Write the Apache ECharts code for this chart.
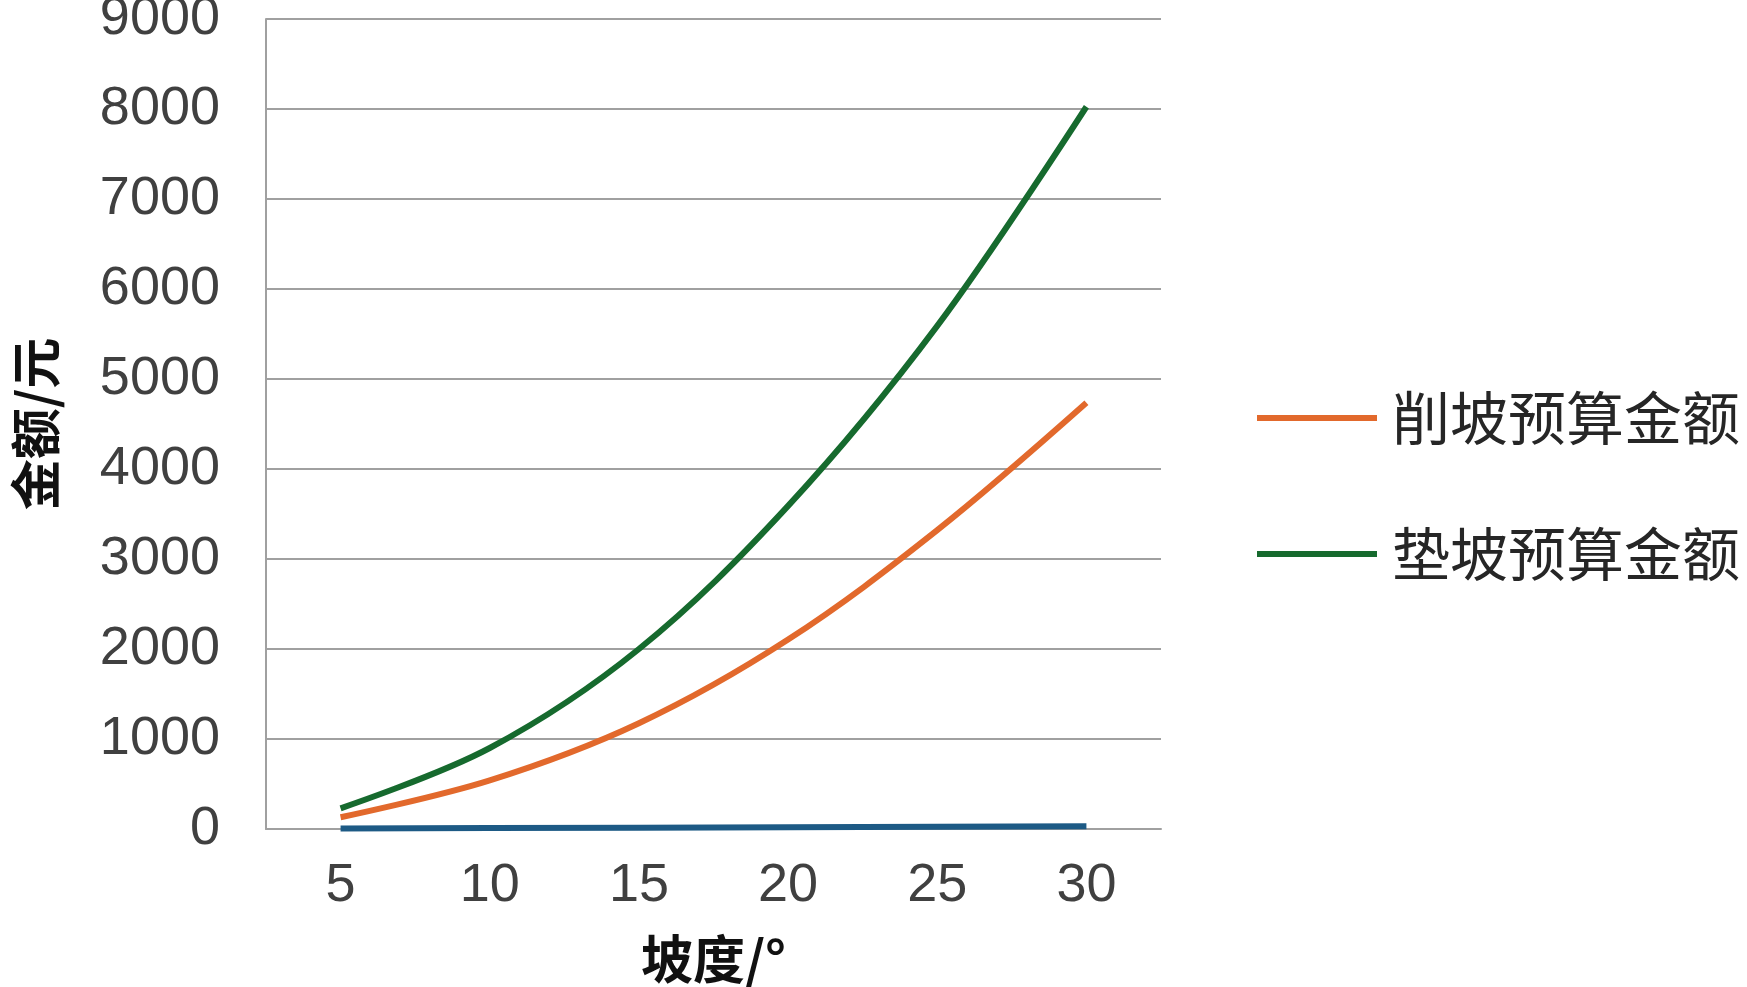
<!DOCTYPE html>
<html>
<head>
<meta charset="utf-8">
<script src="https://cdn.jsdelivr.net/npm/echarts@6/dist/echarts.min.js"></script>
<style>
html,body{margin:0;padding:0;background:#fff;}
#main{width:1747px;height:987px;}
</style>
</head>
<body>
<div id="main"></div>
<script>
const categories = ['5', '10', '15', '20', '25', '30'];
const cutSlope = [130, 540, 1175, 2105, 3320, 4735];
const fillSlope = [230, 900, 2000, 3590, 5590, 8025];
const baseSeries = [5, 10, 15, 20, 25, 30];
const seriesNames = ['削坡预算金额', '垫坡预算金额'];
const seriesColors = ['#e2692c', '#166a2e'];
const yTicks = { min: 0, max: 9000, interval: 1000 };

const chart = echarts.init(document.getElementById('main'));
chart.setOption({
  animation: false,
  backgroundColor: '#ffffff',
  grid: { left: 266, top: 19, right: 586, bottom: 158, containLabel: false, outerBoundsMode: 'none' },
  legend: {
    data: seriesNames.map((n, i) => ({ name: n, icon: 'rect', itemStyle: { color: seriesColors[i] } })),
    orient: 'vertical',
    left: 1252,
    top: 383,
    itemWidth: 120,
    itemHeight: 6,
    itemGap: 76,
    textStyle: {
      fontFamily: 'Noto Sans CJK SC',
      fontSize: 58,
      lineHeight: 60,
      color: '#262626',
      padding: [0, 0, 0, 10]
    }
  },
  xAxis: {
    type: 'category',
    data: categories,
    boundaryGap: true,
    name: '坡度/°',
    nameLocation: 'middle',
    nameGap: 104,
    nameTextStyle: { fontFamily: 'Noto Sans CJK SC', fontSize: 52, fontWeight: 'bold', color: '#111' },
    axisLine: { show: true, lineStyle: { color: '#a0a0a0', width: 2 } },
    axisTick: { show: false },
    axisLabel: { margin: 30, fontFamily: 'Liberation Sans', fontSize: 54, color: '#404040' },
    splitLine: { show: false }
  },
  yAxis: {
    type: 'value',
    min: yTicks.min,
    max: yTicks.max,
    interval: yTicks.interval,
    name: '金额/元',
    nameLocation: 'middle',
    nameGap: 205,
    nameTextStyle: { fontFamily: 'Noto Sans CJK SC', fontSize: 51, fontWeight: 'bold', color: '#111' },
    axisLine: { show: true, lineStyle: { color: '#a0a0a0', width: 2 } },
    axisTick: { show: false },
    axisLabel: { margin: 46, fontFamily: 'Liberation Sans', fontSize: 54, color: '#404040', formatter: v => String(v) },
    splitLine: { show: true, lineStyle: { color: '#a0a0a0', width: 2 } }
  },
  series: [
    {
      name: 'base',
      type: 'line',
      data: baseSeries,
      symbol: 'none',
      lineStyle: { color: '#1d5a85', width: 6 },
      itemStyle: { color: '#1d5a85' },
      z: 3
    },
    {
      name: seriesNames[0],
      type: 'line',
      data: cutSlope,
      smooth: 0.35,
      symbol: 'none',
      lineStyle: { color: seriesColors[0], width: 6 },
      itemStyle: { color: seriesColors[0] },
      z: 4
    },
    {
      name: seriesNames[1],
      type: 'line',
      data: fillSlope,
      smooth: 0.35,
      symbol: 'none',
      lineStyle: { color: seriesColors[1], width: 6 },
      itemStyle: { color: seriesColors[1] },
      z: 5
    }
  ]
});
</script>
</body>
</html>
